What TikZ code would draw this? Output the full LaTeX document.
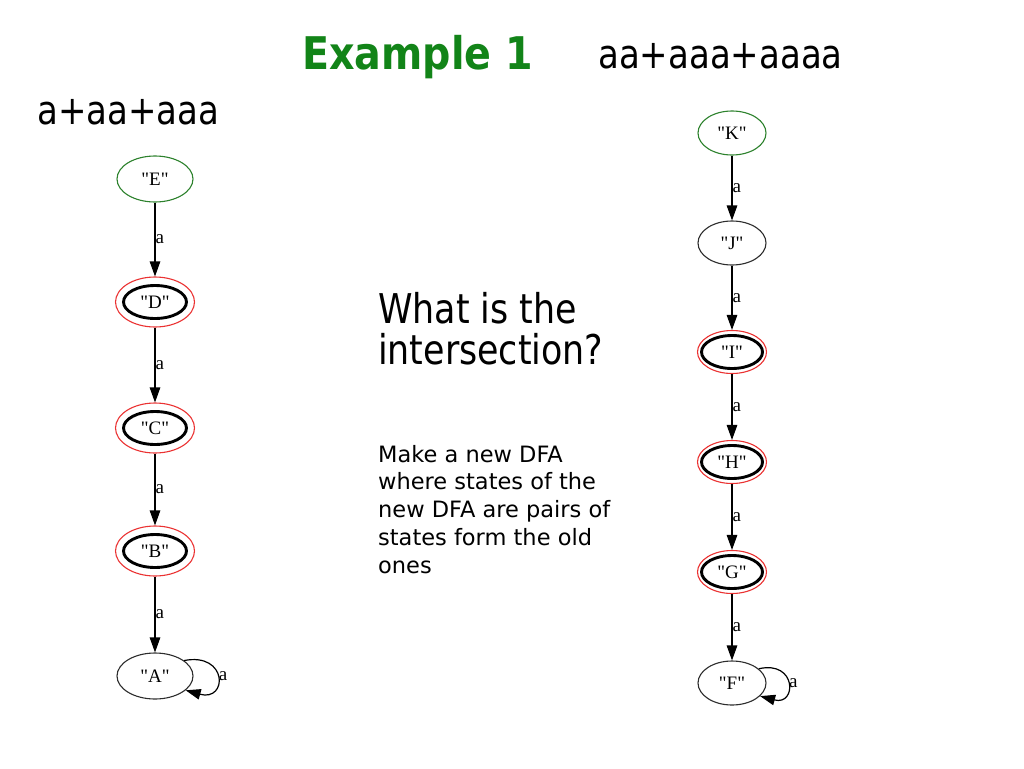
\documentclass[tikz,border=0pt]{standalone}
\usepackage{fontspec}
\usetikzlibrary{shapes.geometric,arrows.meta}
\newfontfamily\tahfont[FakeStretch=0.85]{DejaVu Sans}
\newfontfamily\tahbold[FakeStretch=0.88]{DejaVu Sans}
\newfontfamily\verdfont{DejaVu Sans}
\newfontfamily\gvfont[Ligatures=TeXOff]{Liberation Serif}
\definecolor{titlegreen}{RGB}{18,132,24}
\definecolor{initgreen}{RGB}{45,130,45}
\definecolor{accred}{RGB}{235,50,50}
\definecolor{stategray}{RGB}{45,45,45}
\begin{document}
\begin{tikzpicture}[x=1pt,y=-1pt,
  gvtext/.style={font=\gvfont\fontsize{19}{22}\selectfont},
  state/.style={ellipse, draw=stategray, line width=1.1pt, inner sep=0pt, gvtext},
  lstate/.style={state, minimum width=76pt, minimum height=46pt},
  rstate/.style={state, minimum width=68pt, minimum height=44pt},
  lacc/.style={state, draw=accred, minimum width=79pt, minimum height=50pt,
    path picture={\draw[black, line width=2.9pt] (path picture bounding box.center) ellipse [x radius=31.5pt, y radius=16.5pt];}},
  racc/.style={state, draw=accred, minimum width=69pt, minimum height=43pt,
    path picture={\draw[black, line width=2.9pt] (path picture bounding box.center) ellipse [x radius=30.5pt, y radius=16.5pt];}},
  trans/.style={draw=black, line width=1.2pt, -{Triangle[length=15pt,width=10.5pt]}},
  elabel/.style={gvtext, inner sep=0pt, right, xshift=0pt},
  bigtext/.style={anchor=base west, inner sep=0pt, font=\tahfont\fontsize{40}{48}\selectfont},
]
\fill[white] (0,0) rectangle (1024,768);
\useasboundingbox (0,0) rectangle (1024,768);

% texts
\node[anchor=base west, inner sep=0pt, text=titlegreen, font=\tahbold\bfseries\fontsize{45}{54}\selectfont] (title) at (302,70) {Example 1};
\node[bigtext] (re2) at (598,68) {aa+aaa+aaaa};
\node[bigtext] (re1) at (37,124) {a+aa+aaa};
\node[bigtext, align=left, font=\tahfont\fontsize{41}{41}\selectfont] (quest) at (378,364) {What is the\\intersection?};
\node[anchor=base west, inner sep=0pt, align=left, font=\verdfont\fontsize{22.5}{27.7}\selectfont] (answer) at (378,573) {Make a new DFA\\where states of the\\new DFA are pairs of\\states form the old\\ones};

% left automaton
\node[lstate, draw=initgreen] (E) at (155,179) {"E"};
\node[lacc] (D) at (155,302) {"D"};
\node[lacc] (C) at (155,428) {"C"};
\node[lacc] (B) at (155,551) {"B"};
\node[lstate] (A) at (155,676) {"A"};
\draw[trans] (E) -- node[elabel] {a} (D);
\draw[trans] (D) -- node[elabel] {a} (C);
\draw[trans] (C) -- node[elabel] {a} (B);
\draw[trans] (B) -- node[elabel] {a} (A);
\draw[trans] (A.28) .. controls (228,652) and (228,702) .. (A.-25) node[pos=0.5, right, inner sep=1pt, gvtext] {a};

% right automaton
\node[rstate, draw=initgreen] (K) at (732,133) {"K"};
\node[rstate] (J) at (732,243) {"J"};
\node[racc] (I) at (732,352) {"I"};
\node[racc] (H) at (732,462) {"H"};
\node[racc] (G) at (732,572) {"G"};
\node[rstate] (F) at (732,683) {"F"};
\draw[trans] (K) -- node[elabel] {a} (J);
\draw[trans] (J) -- node[elabel] {a} (I);
\draw[trans] (I) -- node[elabel] {a} (H);
\draw[trans] (H) -- node[elabel] {a} (G);
\draw[trans] (G) -- node[elabel] {a} (F);
\draw[trans] (F.28) .. controls (797,660) and (797,706) .. (F.-25) node[pos=0.5, right, inner sep=1pt, gvtext] {a};
\end{tikzpicture}
\end{document}
